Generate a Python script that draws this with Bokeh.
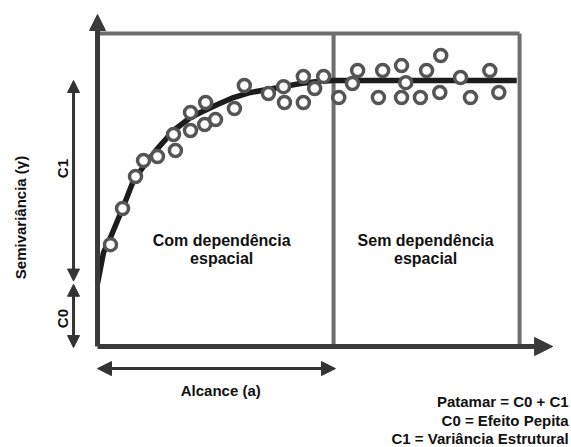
from math import pi

from bokeh.plotting import figure
from bokeh.models import Range1d, Arrow, NormalHead, ColumnDataSource
from bokeh.embed import file_html
from bokeh.resources import INLINE
from bokeh.core.properties import value

# Experimental semivariogram: lag distance (h) and semivariance (gamma)
lag = [2.75, 5.30, 8.05, 9.75, 12.7, 16.5, 16.1, 19.7, 19.7, 22.9, 22.7, 25.0,
       29.0, 31.1, 36.2, 39.4, 39.6, 43.6, 43.6, 46.0, 47.9, 51.1, 54.0, 55.1,
       60.4, 59.5, 64.4, 65.3, 64.4, 68.4, 69.7, 72.7, 72.5, 76.9, 79.0, 83.1, 85.0]
gamma = [38.3, 51.9, 63.9, 69.9, 71.4, 73.7, 79.7, 88.0, 81.2, 91.7, 83.5, 85.3,
         89.5, 98.1, 95.1, 97.7, 91.7, 91.7, 101.5, 97.0, 101.5, 93.6, 98.9, 103.8,
         103.8, 93.6, 105.6, 99.2, 93.6, 93.6, 103.8, 109.4, 95.5, 101.1, 93.6, 103.8, 95.5]

# Fitted model curve
model_lag = [0.0, 1.27, 2.75, 5.30, 7.63, 10.2, 12.7, 16.1, 19.7, 21.8, 25.4, 28.8,
             32.4, 36.0, 39.4, 43.0, 46.6, 50.0, 64.2, 88.8]
model_gamma = [23.7, 35.3, 41.0, 51.9, 62.4, 68.8, 74.4, 81.2, 86.1, 88.0, 91.0, 93.6,
               95.5, 96.6, 97.7, 98.9, 99.6, 100.0, 100.0, 100.0]

# Model parameters
NUGGET = 24.0    # C0
SILL = 100.0     # C0 + C1
RANGE_A = 50.0   # alcance (a)
H_END = 89.4     # end of the studied lag domain
TOP = 117.7      # top of the framing box

FONT = value("Liberation Sans")
DARK = "#333333"
BOX = "#6e6e6e"

p = figure(width=571, height=447, output_backend="svg", toolbar_location=None,
           x_range=Range1d(-20.55, 100.4), y_range=Range1d(-37.97, 130.08),
           x_axis_location=None, y_axis_location=None, min_border=0,
           outline_line_color=None, background_fill_color="white")
p.grid.visible = False

# Framing box: top edge, range divider and right edge
p.segment(x0=[0, RANGE_A, H_END], y0=[TOP, 0, 0], x1=[H_END, RANGE_A, H_END], y1=[TOP, TOP, TOP],
          line_color=BOX, line_width=4)

# Main axes with arrow heads
p.add_layout(Arrow(end=NormalHead(size=16, fill_color="#3a3a3a", line_color="#3a3a3a"),
                   x_start=0, y_start=0, x_end=0, y_end=124.8,
                   line_color="#3a3a3a", line_width=5))
p.add_layout(Arrow(end=NormalHead(size=18, fill_color="#3a3a3a", line_color="#3a3a3a"),
                   x_start=0, y_start=0, x_end=96.4, y_end=0,
                   line_color="#3a3a3a", line_width=5))

# C1 and C0 dimension arrows
def double_arrow(x0, y0, x1, y1, size=12, width=3):
    p.add_layout(Arrow(start=NormalHead(size=size, fill_color=DARK, line_color=DARK),
                       end=NormalHead(size=size, fill_color=DARK, line_color=DARK),
                       x_start=x0, y_start=y0, x_end=x1, y_end=y1,
                       line_color=DARK, line_width=width))

double_arrow(-5.08, NUGGET + 0.6, -5.08, SILL)
double_arrow(-5.08, NUGGET - 0.6, -5.08, -0.4)
# Alcance arrow
double_arrow(0, -8.3, RANGE_A + 0.4, -8.3, size=14)

# Model curve and experimental points
p.line(model_lag, model_gamma, line_color="#1c1c1c", line_width=5.5)
src = ColumnDataSource(dict(h=lag, g=gamma))
p.scatter("h", "g", source=src, size=12, fill_color="white", line_color="#555555", line_width=3.5)

def label(x, y, txt, size="15px", align="center", angle=0.0):
    p.text(x=[x], y=[y], text=[txt], text_font=FONT, text_font_style="bold",
           text_font_size=size, text_align=align, text_baseline="middle",
           text_color="#111111", angle=angle)

label(26.3, 39.8, "Com dependência", size="16px")
label(26.3, 33.1, "espacial", size="16px")
label(69.5, 39.8, "Sem dependência", size="16px")
label(69.5, 33.1, "espacial", size="16px")
label(26.1, -16.5, "Alcance (a)")
label(-16.3, 48.5, "Semivariância (γ)", angle=pi / 2)
label(-7.4, 66.9, "C1", angle=pi / 2)
label(-7.4, 10.5, "C0", angle=pi / 2)
label(99.8, -20.7, "Patamar = C0 + C1", align="right")
label(99.8, -27.8, "C0 = Efeito Pepita", align="right")
label(99.8, -34.6, "C1 = Variância Estrutural", align="right")

with open("out.html", "w") as f:
    f.write(file_html(p, INLINE))
